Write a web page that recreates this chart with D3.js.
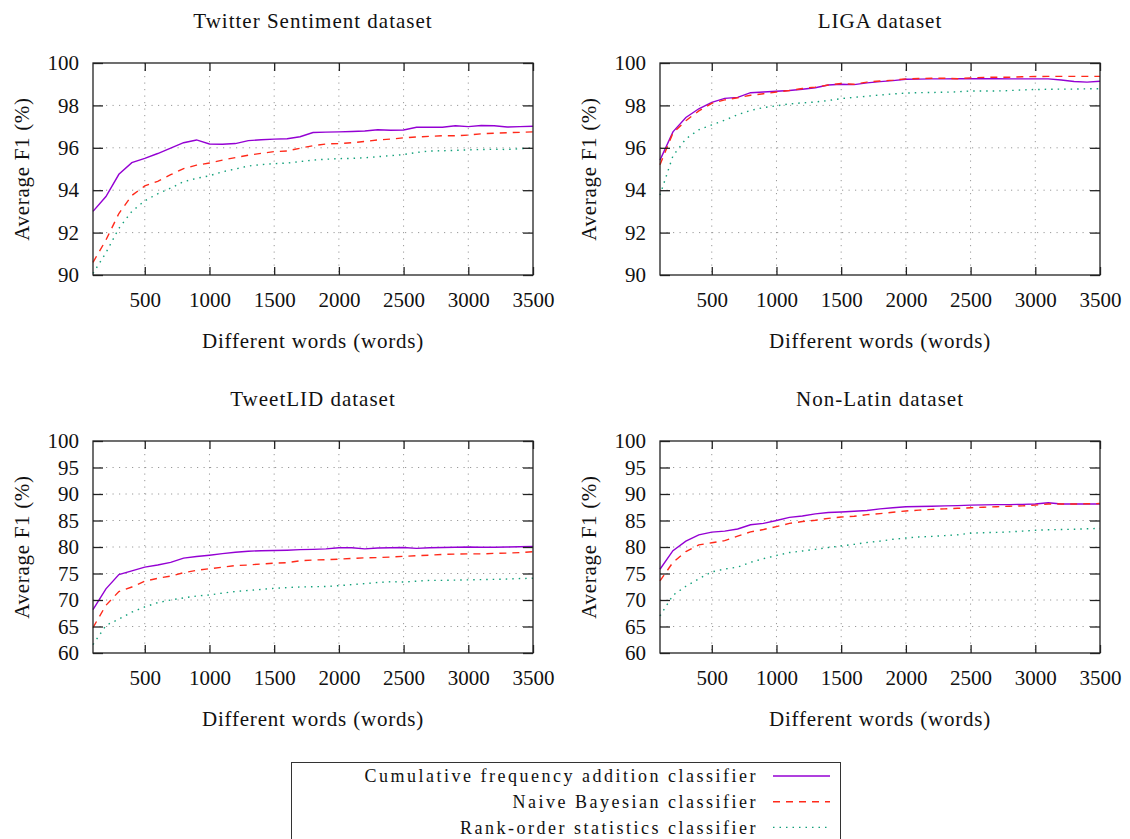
<!DOCTYPE html>
<html><head><meta charset="utf-8">
<script src="https://cdn.jsdelivr.net/npm/d3@7"></script>
<style>body{margin:0;background:#fff}text{font-family:"Liberation Serif",serif;fill:#111}</style>
</head><body><svg id="c" width="1130" height="839"></svg>
<script>
const words = [100,200,300,400,500,600,700,800,900,1000,1100,1200,1300,1400,1500,1600,1700,1800,1900,2000,2100,2200,2300,2400,2500,2600,2700,2800,2900,3000,3100,3200,3300,3400,3500];
const xTicks = [500,1000,1500,2000,2500,3000,3500];
const yTicksTop = [90,92,94,96,98,100];
const yTicksBottom = [60,65,70,75,80,85,90,95,100];
const seriesNames = ["Cumulative frequency addition classifier","Naive Bayesian classifier","Rank-order statistics classifier"];
const titles = ["Twitter Sentiment dataset","LIGA dataset","TweetLID dataset","Non-Latin dataset"];

const twitterCFA = [93.0,93.7,94.75,95.3,95.5,95.73,95.98,96.24,96.37,96.18,96.17,96.2,96.34,96.38,96.41,96.43,96.52,96.72,96.74,96.75,96.77,96.79,96.85,96.83,96.84,96.97,96.97,96.97,97.04,97.0,97.05,97.04,96.98,97.0,97.02];
const twitterNB = [90.6,91.65,92.9,93.75,94.2,94.42,94.73,95.02,95.18,95.28,95.42,95.54,95.65,95.74,95.82,95.85,95.98,96.1,96.18,96.2,96.24,96.3,96.37,96.41,96.47,96.51,96.54,96.57,96.57,96.6,96.66,96.69,96.71,96.73,96.75];
const twitterRO = [90.08,91.05,92.2,93.0,93.5,93.83,94.1,94.4,94.56,94.68,94.87,95.0,95.14,95.21,95.25,95.28,95.35,95.42,95.46,95.49,95.5,95.53,95.58,95.63,95.68,95.78,95.85,95.86,95.88,95.9,95.92,95.93,95.92,95.96,95.98];

const ligaCFA = [95.42,96.75,97.43,97.84,98.14,98.33,98.38,98.6,98.63,98.67,98.7,98.76,98.83,98.96,99.0,98.98,99.06,99.12,99.17,99.23,99.24,99.25,99.25,99.26,99.26,99.26,99.26,99.25,99.25,99.25,99.25,99.2,99.13,99.1,99.14];
const ligaNB = [95.2,96.7,97.28,97.74,98.1,98.26,98.36,98.48,98.55,98.63,98.7,98.8,98.86,98.96,99.03,99.0,99.1,99.15,99.19,99.25,99.27,99.28,99.28,99.26,99.3,99.32,99.33,99.33,99.35,99.36,99.37,99.37,99.37,99.37,99.37];
const ligaRO = [93.77,95.62,96.42,96.85,97.08,97.3,97.56,97.76,97.9,97.98,98.07,98.12,98.16,98.23,98.32,98.38,98.43,98.49,98.54,98.58,98.6,98.61,98.62,98.64,98.68,98.68,98.68,98.7,98.73,98.75,98.76,98.77,98.77,98.78,98.79];

const tweetlidCFA = [68.2,72.1,74.8,75.5,76.2,76.6,77.1,77.9,78.2,78.45,78.75,79.0,79.2,79.3,79.35,79.4,79.5,79.55,79.65,79.85,79.85,79.65,79.8,79.85,79.9,79.75,79.85,79.9,79.95,80.0,79.95,79.95,80.0,80.05,80.1];
const tweetlidNB = [64.8,69.0,71.6,72.45,73.55,74.1,74.5,75.15,75.6,75.9,76.2,76.5,76.6,76.8,76.95,77.05,77.4,77.55,77.6,77.7,77.85,77.95,78.0,78.1,78.25,78.35,78.45,78.6,78.65,78.7,78.7,78.8,78.85,78.95,79.1];
const tweetlidRO = [61.6,65.2,66.4,67.7,68.7,69.5,70.0,70.4,70.75,70.95,71.3,71.6,71.8,72.0,72.2,72.35,72.45,72.5,72.55,72.7,72.9,73.1,73.3,73.45,73.4,73.55,73.7,73.7,73.75,73.8,73.85,73.9,73.95,74.05,74.1];

const nonlatinCFA = [75.8,79.3,81.1,82.3,82.8,83.0,83.4,84.2,84.45,85.0,85.6,85.85,86.25,86.5,86.6,86.75,86.9,87.2,87.4,87.6,87.65,87.7,87.75,87.8,87.9,87.95,88.0,88.0,88.05,88.1,88.35,88.1,88.1,88.1,88.1];
const nonlatinNB = [73.6,77.1,79.15,80.4,80.8,81.2,82.05,82.85,83.3,83.85,84.45,84.8,85.05,85.4,85.65,85.8,86.1,86.3,86.55,86.8,86.95,87.1,87.2,87.3,87.4,87.5,87.6,87.7,87.75,87.9,88.1,88.1,88.1,88.15,88.2];
const nonlatinRO = [67.0,70.9,72.6,74.0,75.3,75.85,76.2,77.1,77.8,78.4,78.95,79.25,79.55,79.9,80.2,80.5,80.85,81.1,81.45,81.7,81.9,82.0,82.15,82.3,82.6,82.7,82.75,82.85,83.0,83.15,83.25,83.3,83.35,83.45,83.5];

const colors = ["#9400d3","#ff2a1a","#12a07a"];
const dashes = [null,"7,6","1.5,5"];

const panels = [
  {title:titles[0], data:[twitterCFA,twitterNB,twitterRO], yT:yTicksTop, x0:93, x1:533, y0:63, y1:275},
  {title:titles[1], data:[ligaCFA,ligaNB,ligaRO], yT:yTicksTop, x0:660, x1:1100, y0:63, y1:275},
  {title:titles[2], data:[tweetlidCFA,tweetlidNB,tweetlidRO], yT:yTicksBottom, x0:93, x1:533, y0:441, y1:653},
  {title:titles[3], data:[nonlatinCFA,nonlatinNB,nonlatinRO], yT:yTicksBottom, x0:660, x1:1100, y0:441, y1:653}
];
const svg = d3.select("#c");
const FS = 21;
panels.forEach(p=>{
  const x = d3.scaleLinear().domain([100,3500]).range([p.x0,p.x1]);
  const y = d3.scaleLinear().domain([p.yT[0],p.yT[p.yT.length-1]]).range([p.y1,p.y0]);
  const g = svg.append("g");
  g.selectAll(".gy").data(p.yT.slice(1,-1)).join("line")
    .attr("x1",p.x0).attr("x2",p.x1).attr("y1",d=>y(d)).attr("y2",d=>y(d))
    .attr("stroke","#999").attr("stroke-width",1).attr("stroke-dasharray","1.2,5.3");
  g.selectAll(".gx").data(xTicks.slice(0,-1)).join("line")
    .attr("x1",d=>x(d)).attr("x2",d=>x(d)).attr("y1",p.y0).attr("y2",p.y1)
    .attr("stroke","#999").attr("stroke-width",1).attr("stroke-dasharray","1.2,5.3");
  p.data.forEach((s,i)=>{
    const line = d3.line().x((d,j)=>x(words[j])).y(d=>y(d));
    g.append("path").datum(s).attr("d",line).attr("fill","none")
      .attr("stroke",colors[i]).attr("stroke-width",1.4)
      .attr("stroke-dasharray",dashes[i]);
  });
  g.append("g").attr("transform",`translate(0,${p.y1})`)
    .call(d3.axisBottom(x).tickValues(xTicks).tickSize(-8).tickPadding(17).tickFormat(d3.format("d")))
    .call(a=>a.select(".domain").remove());
  g.append("g").attr("transform",`translate(0,${p.y0})`)
    .call(d3.axisTop(x).tickValues(xTicks).tickSize(-8).tickFormat(""))
    .call(a=>a.select(".domain").remove());
  g.append("g").attr("transform",`translate(${p.x0},0)`)
    .call(d3.axisLeft(y).tickValues(p.yT).tickSize(-10).tickPadding(14))
    .call(a=>a.select(".domain").remove());
  g.append("g").attr("transform",`translate(${p.x1},0)`)
    .call(d3.axisRight(y).tickValues(p.yT).tickSize(-10).tickFormat(""))
    .call(a=>a.select(".domain").remove());
  g.selectAll(".tick line").attr("stroke","#222").attr("stroke-width",1.3);
  g.selectAll(".tick text").attr("font-size",FS).attr("font-family","Liberation Serif").attr("fill","#111");
  g.append("rect").attr("x",p.x0).attr("y",p.y0).attr("width",p.x1-p.x0).attr("height",p.y1-p.y0)
    .attr("fill","none").attr("stroke","#222").attr("stroke-width",1.3);
  const cx = (p.x0+p.x1)/2;
  g.append("text").attr("x",cx).attr("y",p.y0-35).attr("text-anchor","middle").attr("font-size",FS).attr("letter-spacing","1px").text(p.title);
  g.append("text").attr("x",cx).attr("y",p.y1+73).attr("text-anchor","middle").attr("font-size",FS).attr("letter-spacing","0.8px").text("Different words (words)");
  g.append("text").attr("transform",`translate(${p.x0-71},${(p.y0+p.y1)/2}) rotate(-90)`).attr("dy","0.35em")
    .attr("text-anchor","middle").attr("font-size",FS).attr("letter-spacing","0.7px").text("Average F1 (%)");
});
const lg = svg.append("g");
lg.append("rect").attr("x",291.5).attr("y",762.5).attr("width",549).attr("height",90).attr("fill","#fff").attr("stroke","#333").attr("stroke-width",1);
seriesNames.forEach((n,i)=>{
  const yy = 776 + i*25.7;
  lg.append("text").attr("x",758).attr("y",yy).attr("dy","0.35em").attr("text-anchor","end")
    .attr("font-size",18).attr("letter-spacing","2.5px").text(n);
  lg.append("line").attr("x1",773).attr("x2",830).attr("y1",yy).attr("y2",yy)
    .attr("stroke",colors[i]).attr("stroke-width",1.4).attr("stroke-dasharray",dashes[i]);
});
</script></body></html>
